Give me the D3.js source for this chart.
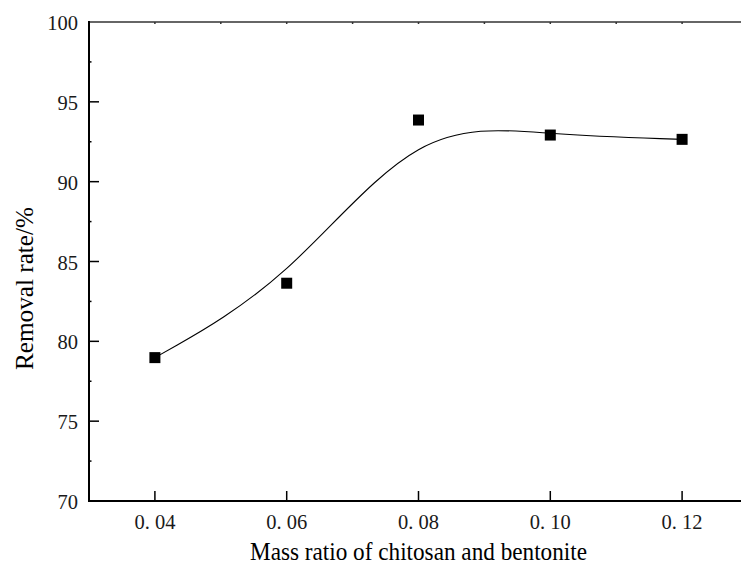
<!DOCTYPE html>
<html>
<head>
    <title>Removal rate vs mass ratio</title>
    <script src="https://cdnjs.cloudflare.com/ajax/libs/d3/7.8.5/d3.min.js"></script>
    <style>
        body { margin: 0; background: #fff; }
        .tick-label { font-family: "Liberation Serif", "DejaVu Serif", serif; font-size: 20.5px; fill: #1a1a1a; }
        .axis-title { font-family: "Liberation Serif", "Times New Roman", serif; font-size: 25px; fill: #000; }
    </style>
</head>
<body>
    <svg id="chart"></svg>

    <script>
        // data
        const ratios = [0.04, 0.06, 0.08, 0.10, 0.12];
        const removal = [78.98, 83.64, 93.86, 92.92, 92.65];
        const xTicks = [0.04, 0.06, 0.08, 0.10, 0.12];
        const xTickLabels = ["0. 04", "0. 06", "0. 08", "0. 10", "0. 12"];
        const yTicks = [70, 75, 80, 85, 90, 95, 100];

        const width = 741;
        const height = 566;
        const plotLeft = 89, plotTop = 22, plotRight = 748, plotBottom = 501;

        const svg = d3.select("#chart")
            .attr("width", width)
            .attr("height", height);

        const x = d3.scaleLinear().domain([0.03, 0.13]).range([plotLeft, plotRight]);
        const y = d3.scaleLinear().domain([70, 100]).range([plotBottom, plotTop]);

        // top frame line with small ticks every 0.01
        svg.append("line")
            .attr("x1", plotLeft).attr("x2", plotRight)
            .attr("y1", plotTop).attr("y2", plotTop)
            .attr("stroke", "#333").attr("stroke-width", 1.5);
        svg.selectAll(".top-tick")
            .data(d3.range(4, 13).map(d => d / 100))
            .join("line")
            .attr("class", "top-tick")
            .attr("x1", d => x(d)).attr("x2", d => x(d))
            .attr("y1", plotTop).attr("y2", plotTop + 2)
            .attr("stroke", "#333").attr("stroke-width", 1.5);

        // bottom axis
        const xAxis = svg.append("g");
        xAxis.append("line")
            .attr("x1", plotLeft - 1).attr("x2", plotRight)
            .attr("y1", plotBottom).attr("y2", plotBottom)
            .attr("stroke", "#000").attr("stroke-width", 2);
        xAxis.selectAll(".xt")
            .data(xTicks)
            .join("line")
            .attr("class", "xt")
            .attr("x1", d => x(d)).attr("x2", d => x(d))
            .attr("y1", plotBottom).attr("y2", plotBottom - 10)
            .attr("stroke", "#000").attr("stroke-width", 1.5);
        xAxis.selectAll(".xl")
            .data(xTicks)
            .join("text")
            .attr("class", "tick-label xl")
            .attr("x", d => x(d))
            .attr("y", 529)
            .attr("text-anchor", "middle")
            .text((d, i) => xTickLabels[i]);

        // left axis
        const yAxis = svg.append("g");
        yAxis.append("line")
            .attr("x1", plotLeft).attr("x2", plotLeft)
            .attr("y1", plotTop - 1).attr("y2", plotBottom + 1)
            .attr("stroke", "#000").attr("stroke-width", 2);
        yAxis.selectAll(".yt")
            .data(yTicks.slice(1, -1))
            .join("line")
            .attr("class", "yt")
            .attr("x1", plotLeft).attr("x2", plotLeft + 10)
            .attr("y1", d => y(d)).attr("y2", d => y(d))
            .attr("stroke", "#000").attr("stroke-width", 1.5);
        yAxis.selectAll(".ym")
            .data(d3.range(72.5, 100, 5))
            .join("line")
            .attr("class", "ym")
            .attr("x1", plotLeft).attr("x2", plotLeft + 2.5)
            .attr("y1", d => y(d)).attr("y2", d => y(d))
            .attr("stroke", "#000").attr("stroke-width", 1.5);
        yAxis.selectAll(".yl")
            .data(yTicks)
            .join("text")
            .attr("class", "tick-label yl")
            .attr("x", 78)
            .attr("y", d => y(d) + 8)
            .attr("text-anchor", "end")
            .text(d => d);

        // axis titles (the original type is a tall, narrow Times)
        svg.append("text")
            .attr("class", "axis-title")
            .attr("x", 250)
            .attr("y", 560)
            .attr("textLength", 337)
            .attr("lengthAdjust", "spacingAndGlyphs")
            .text("Mass ratio of chitosan and bentonite");
        svg.append("text")
            .attr("class", "axis-title")
            .attr("transform", "translate(33,370) rotate(-90)")
            .attr("textLength", 163)
            .attr("lengthAdjust", "spacingAndGlyphs")
            .text("Removal rate/%");

        // smoothed curve (B-spline through the points)
        const points = ratios.map((r, i) => [r, removal[i]]);
        const line = d3.line()
            .x(d => x(d[0]))
            .y(d => y(d[1]))
            .curve(d3.curveBasis);
        svg.append("path")
            .datum(points)
            .attr("d", line)
            .attr("fill", "none")
            .attr("stroke", "#000")
            .attr("stroke-width", 1.1);

        // square markers
        svg.selectAll(".pt")
            .data(points)
            .join("rect")
            .attr("class", "pt")
            .attr("x", d => x(d[0]) - 5.5)
            .attr("y", d => y(d[1]) - 5.5)
            .attr("width", 11)
            .attr("height", 11)
            .attr("fill", "#000");
    </script>
</body>
</html>
